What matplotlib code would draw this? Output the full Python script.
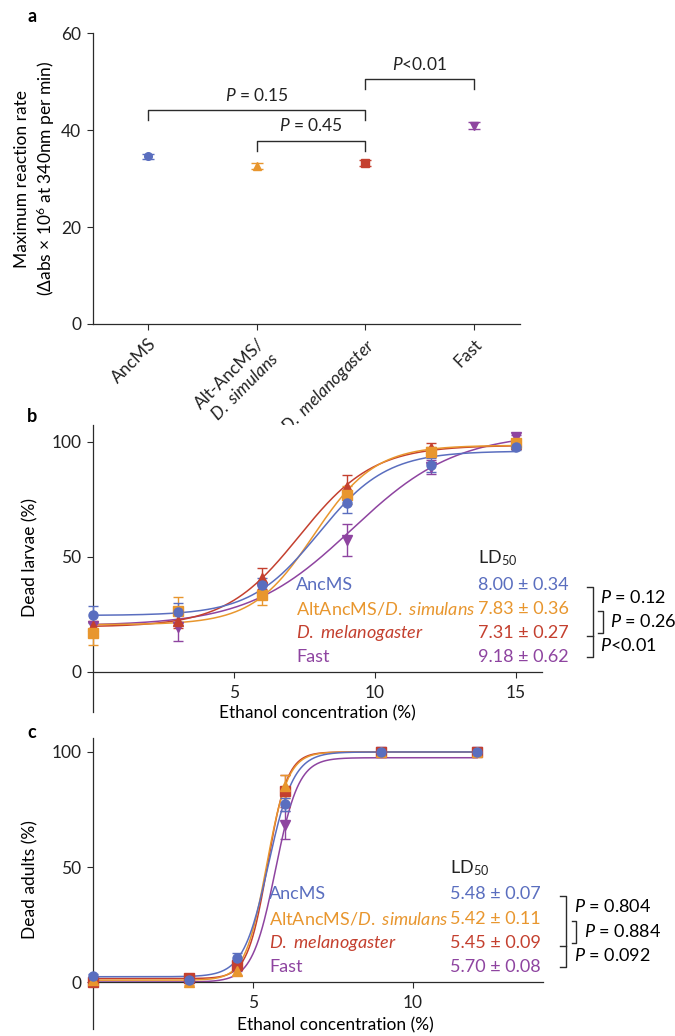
import numpy as np
import matplotlib
matplotlib.use('Agg')
import matplotlib.pyplot as plt

plt.rcParams['font.family'] = ['Lato', 'DejaVu Sans']
plt.rcParams['mathtext.fontset'] = 'custom'
plt.rcParams['mathtext.rm'] = 'Lato'
plt.rcParams['mathtext.it'] = 'Lato:italic'
plt.rcParams['mathtext.bf'] = 'Lato:bold'
plt.rcParams['mathtext.sf'] = 'Lato'
plt.rcParams['mathtext.fallback'] = 'stixsans'

# colores: AncMS, AltAncMS/D. simulans, D. melanogaster, Fast
cols = ['#5a6ebf', '#e8962e', '#c4402f', '#8e44a0']
dark = '#2b2b2b'

# --- panel a: velocidad máxima
strains_a = ['AncMS', 'Alt-AncMS/\n$\\mathit{D.\\ simulans}$',
             '$\\mathit{D.\\ melanogaster}$', 'Fast']
rate = [34.6, 32.6, 33.3, 40.9]
rate_err = [0.5, 0.6, 0.6, 0.7]
pairs_a = [(0, 2), (1, 2), (2, 3)]
pvals_a = ['$P$ = 0.15', '$P$ = 0.45', '$P$<0.01']

# --- panel b: larvas
conc_b = [0, 3, 6, 9, 12, 15]
larvae_anc = [24.9, 25.8, 37.6, 73.2, 89.9, 97.6]
larvae_anc_err = [3.6, 4.0, 3.0, 4.0, 3.0, 1.0]
larvae_alt = [16.7, 26.5, 33.6, 76.8, 95.6, 99.3]
larvae_alt_err = [5.0, 6.0, 4.5, 4.0, 2.0, 1.0]
larvae_mel = [20.0, 22.0, 40.6, 80.5, 97.5, 99.0]
larvae_mel_err = [2.0, 3.0, 4.5, 5.0, 2.0, 1.0]
larvae_fast = [20.0, 19.6, 36.0, 57.3, 89.0, 101.9]
larvae_fast_err = [1.5, 6.0, 3.0, 7.0, 3.0, 1.0]
fit_b_bottom = [24.5, 20.5, 19.5, 20.0]
fit_b_top = [96.0, 98.5, 98.5, 104.0]
fit_b_hill = [0.36, 0.40, 0.33, 0.235]
ld50_b = [8.00, 7.83, 7.31, 9.18]
ld50_b_err = [0.34, 0.36, 0.27, 0.62]
pvals_b = ['$P$ = 0.12', '$P$ = 0.26', '$P$<0.01']

# --- panel c: adultos
conc_c = [0, 3, 4.5, 6, 9, 12]
adults_anc = [2.6, 0.9, 10.3, 77.2, 100, 100]
adults_anc_err = [1.0, 1.0, 2.4, 3.0, 0.0, 0.0]
adults_alt = [1.0, 0.0, 5.0, 85.0, 100, 100]
adults_alt_err = [1.0, 1.5, 2.0, 5.0, 0.0, 0.0]
adults_mel = [0.0, 1.9, 7.4, 83.2, 100, 100]
adults_mel_err = [0.5, 1.0, 2.0, 7.0, 0.0, 0.0]
adults_fast = [0.0, 0.5, 7.0, 68.3, 100, 100]
adults_fast_err = [0.5, 1.0, 2.0, 6.0, 0.0, 0.0]
fit_c_bottom = [2.3, 0.8, 1.5, 0.0]
fit_c_top = [100.0, 100.0, 100.0, 97.5]
fit_c_hill = [1.1, 1.3, 1.4, 1.2]
ld50_c = [5.48, 5.42, 5.45, 5.70]
ld50_c_err = [0.07, 0.11, 0.09, 0.08]
pvals_c = ['$P$ = 0.804', '$P$ = 0.884', '$P$ = 0.092']

names = ['AncMS', 'AltAncMS/$\\mathit{D.\\ simulans}$',
         '$\\mathit{D.\\ melanogaster}$', 'Fast']


def logistic(x, b, t, ld, h):
    return b + (t - b) / (1 + 10 ** ((ld - x) * h))


def style(ax):
    for sp in ['top', 'right']:
        ax.spines[sp].set_visible(False)
    for sp in ['left', 'bottom']:
        ax.spines[sp].set_color(dark)
        ax.spines[sp].set_linewidth(0.9)
    ax.tick_params(length=4.5, width=0.8, color=dark, labelcolor='#222222',
                   labelsize=12.5, pad=4)


fig = plt.figure(figsize=(6.75, 10.36), dpi=100)
axa = fig.add_axes([0.1378, 0.6873, 0.6326, 0.2806])
axb = fig.add_axes([0.1378, 0.3127, 0.6652, 0.2770])
axc = fig.add_axes([0.1378, 0.0068, 0.6667, 0.2809])

# ---------------- a
style(axa)
markers_a = ['o', '^', 's', 'v']
for i in range(4):
    axa.errorbar(i, rate[i], yerr=rate_err[i], fmt=markers_a[i], color=cols[i],
                 ms=5.5, capsize=4, elinewidth=1, capthick=1)
bh = [44.1, 37.8, 50.5]
for k, (i, j) in enumerate(pairs_a):
    axa.plot([i, i, j, j], [bh[k] - 2.1, bh[k], bh[k], bh[k] - 2.1],
             color=dark, lw=1)
    axa.text((i + j) / 2, bh[k] + 1.4, pvals_a[k], ha='center', va='bottom',
             fontsize=12.5, color='#222222')
axa.set_xlim(-0.503, 3.42)
axa.set_ylim(0, 60)
axa.set_yticks([0, 20, 40, 60])
axa.set_xticks(range(4))
axa.set_xticklabels(strains_a, rotation=45, ha='right', va='top',
                    rotation_mode='anchor', fontsize=12.5)
axa.text(-0.135, 0.5, 'Maximum reaction rate\n(Δabs × 10$^6$ at 340nm per min)',
         transform=axa.transAxes, rotation=90, ha='center', va='center',
         fontsize=12.5, linespacing=1.3)


def dose_panel(ax, conc, series, errs, markers, bottoms, tops, hills, ld, lderr,
               xfit, rows, xname, xval, ld_y, pvals, xb, xlim, ylim):
    style(ax)
    xx = np.linspace(0, xfit, 400)
    for i in [3, 2, 1, 0]:
        ax.plot(xx, logistic(xx, bottoms[i], tops[i], ld[i], hills[i]),
                color=cols[i], lw=1.1, zorder=2)
        ax.errorbar(conc, series[i], yerr=errs[i], fmt=markers[i], color=cols[i],
                    ms=6.5, capsize=3.5, elinewidth=1, capthick=1, zorder=3,
                    clip_on=False)
    for i in range(4):
        ax.text(xname, rows[i], names[i], color=cols[i], va='center', fontsize=13)
        ax.text(xval, rows[i], f'{ld[i]:.2f} ± {lderr[i]:.2f}', color=cols[i],
                va='center', fontsize=13)
    ax.text(xval, ld_y, 'LD$_{50}$', va='center', fontsize=13, color='#222222')
    # corchetes de P
    x0, x1, x2, x3 = xb
    kw = dict(color=dark, lw=1, clip_on=False)
    ax.plot([x0, x1, x1, x0], [rows[0] - 1, rows[0] - 1, rows[3], rows[3]], **kw)
    ax.plot([x0, x1], [rows[2] - 1, rows[2] - 1], **kw)
    ax.plot([x2, x3, x3, x2], [rows[1] - 0.8, rows[1] - 0.8, rows[2], rows[2]], **kw)
    ax.text(x1 + 0.25, (rows[0] + rows[1]) / 2, pvals[0], va='center', fontsize=13)
    ax.text(x3 + 0.25, (rows[1] + rows[2]) / 2, pvals[1], va='center', fontsize=13)
    ax.text(x1 + 0.25, (rows[2] + rows[3]) / 2, pvals[2], va='center', fontsize=13)
    ax.spines['bottom'].set_position(('data', 0))
    ax.set_xlim(*xlim)
    ax.set_ylim(*ylim)
    ax.set_yticks([0, 50, 100])
    ax.tick_params(axis='x', pad=5)


dose_panel(axb, conc_b, [larvae_anc, larvae_alt, larvae_mel, larvae_fast],
           [larvae_anc_err, larvae_alt_err, larvae_mel_err, larvae_fast_err],
           ['o', 's', '^', 'v'], fit_b_bottom, fit_b_top, fit_b_hill,
           ld50_b, ld50_b_err, 15, [37.7, 27.2, 16.7, 6.3], 7.2, 13.65, 49.3,
           pvals_b, (17.52, 17.73, 17.91, 18.09), (0, 15.92), (-17.5, 107.3))
axb.set_xticks([5, 10, 15])
axb.text(0.5, -0.004, 'Ethanol concentration (%)', transform=axb.transAxes,
         ha='center', va='center', fontsize=12.5)
axb.text(-0.140, 0.538, 'Dead larvae (%)', transform=axb.transAxes, rotation=90,
         ha='center', va='center', fontsize=12.5)

dose_panel(axc, conc_c, [adults_anc, adults_alt, adults_mel, adults_fast],
           [adults_anc_err, adults_alt_err, adults_mel_err, adults_fast_err],
           ['o', '^', 's', 'v'], fit_c_bottom, fit_c_top, fit_c_hill,
           ld50_c, ld50_c_err, 12, [38.3, 27.4, 16.8, 6.4], 5.5, 11.15, 49.4,
           pvals_c, (14.6, 14.78, 14.95, 15.1), (0, 14.06), (-20.4, 106.1))
axc.set_xticks([5, 10])
axc.text(0.538, 0.0137, 'Ethanol concentration (%)', transform=axc.transAxes,
         ha='center', va='center', fontsize=12.5)
axc.text(-0.140, 0.515, 'Dead adults (%)', transform=axc.transAxes, rotation=90,
         ha='center', va='center', fontsize=12.5)

for lab, y in [('a', 17), ('b', 417), ('c', 733)]:
    fig.text(32 / 675, 1 - y / 1036, lab, fontweight='bold', fontsize=13,
             ha='center', va='center')

fig.savefig('out.png', dpi=100)
